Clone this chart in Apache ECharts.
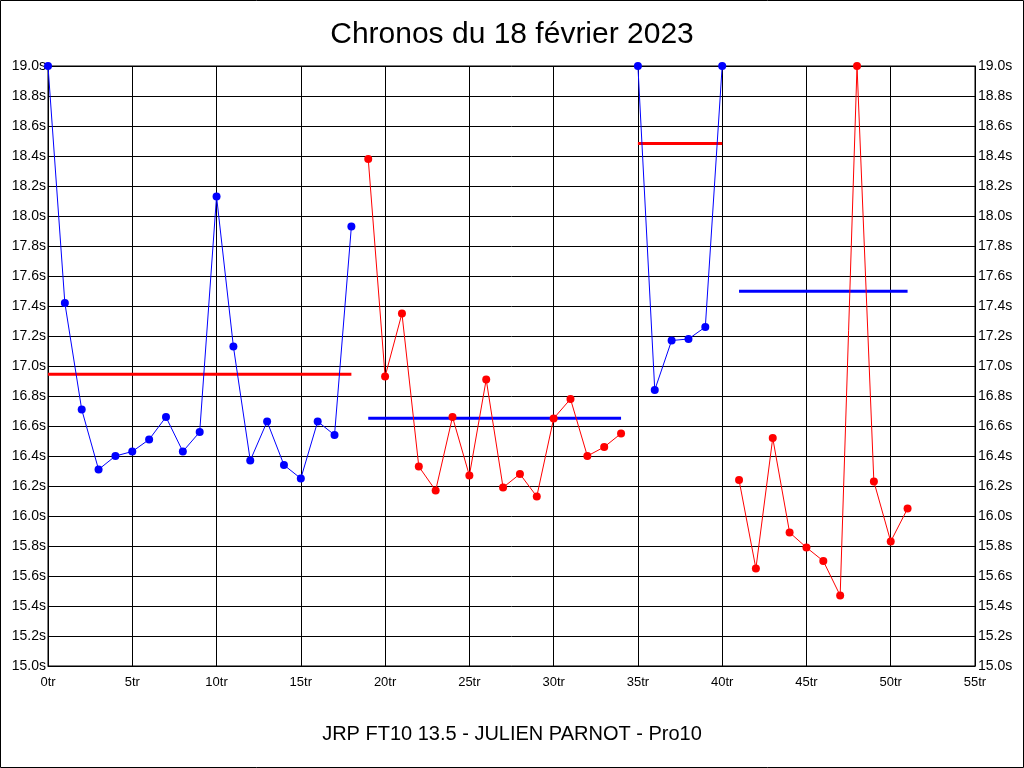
<!DOCTYPE html>
<html>
<head>
<meta charset="utf-8">
<script src="https://cdn.jsdelivr.net/npm/echarts@6/dist/echarts.min.js"></script>
<style>
html,body{margin:0;padding:0;background:#fff;}
#c{width:1024px;height:768px;}
</style>
</head>
<body>
<div id="c"></div>
<script>
// Stint data (lap times in seconds), stint first laps, stint averages
const stintStarts = [0, 19, 35, 41];
const stint1 = [19.0, 17.42, 16.71, 16.31, 16.40, 16.43, 16.51, 16.66, 16.43, 16.56, 18.13, 17.13, 16.37, 16.63, 16.34, 16.25, 16.63, 16.54, 17.93];
const stint2 = [18.38, 16.93, 17.35, 16.33, 16.17, 16.66, 16.27, 16.91, 16.19, 16.28, 16.13, 16.65, 16.78, 16.40, 16.46, 16.55];
const stint3 = [19.0, 16.84, 17.17, 17.18, 17.26, 19.0];
const stint4 = [16.24, 15.65, 16.52, 15.89, 15.79, 15.70, 15.47, 19.0, 16.23, 15.83, 16.05];
const stintAverages = [16.945, 16.651, 18.484, 17.498];
const stintColors = ['#0000ff', '#ff0000', '#0000ff', '#ff0000'];
const avgColors = ['#ff0000', '#0000ff', '#ff0000', '#0000ff'];
const xTicks = {min: 0, max: 55, interval: 5};
const yTicks = {min: 15, max: 19, interval: 0.2};

const stints = [stint1, stint2, stint3, stint4];
const series = [];
stints.forEach((s, k) => {
  const pts = s.map((v, i) => [stintStarts[k] + i, v]);
  series.push({
    type: 'line', data: pts, symbol: 'circle', symbolSize: 8,
    lineStyle: {color: stintColors[k], width: 1},
    itemStyle: {color: stintColors[k]},
    animation: false, silent: true, z: 3
  });
  const first = stintStarts[k], last = stintStarts[k] + s.length - 1;
  series.push({
    type: 'line', data: [[first, stintAverages[k]], [last, stintAverages[k]]],
    symbol: 'none', lineStyle: {color: avgColors[k], width: 3},
    animation: false, silent: true, z: 2
  });
});

const font = 'Liberation Sans, Arial, sans-serif';
const chart = echarts.init(document.getElementById('c'));
chart.setOption({
  backgroundColor: '#fff',
  animation: false,
  title: [
    {text: 'Chronos du 18 février 2023', left: 'center', top: 15,
     textStyle: {fontFamily: font, fontSize: 30, fontWeight: 'normal', color: '#000'}},
    {text: 'JRP FT10 13.5 - JULIEN PARNOT - Pro10', left: 'center', top: 719,
     textStyle: {fontFamily: font, fontSize: 20, fontWeight: 'normal', color: '#000'}}
  ],
  grid: {left: 48, right: 49, top: 66, bottom: 102, show: true, borderColor: '#000', borderWidth: 1},
  xAxis: {
    type: 'value', min: xTicks.min, max: xTicks.max, interval: xTicks.interval,
    axisLine: {show: true, lineStyle: {color: '#000'}},
    axisTick: {show: false},
    splitLine: {show: true, lineStyle: {color: '#000', width: 1}},
    axisLabel: {formatter: v => v + 'tr', color: '#000', fontFamily: 'Liberation Sans Narrow, ' + font, fontSize: 13, margin: 10}
  },
  yAxis: [
    {
      type: 'value', min: yTicks.min, max: yTicks.max, interval: yTicks.interval,
      axisLine: {show: true, lineStyle: {color: '#000'}},
      axisTick: {show: false},
      splitLine: {show: true, lineStyle: {color: '#000', width: 1}},
      axisLabel: {formatter: v => v.toFixed(1) + 's', color: '#000', fontFamily: font, fontSize: 14, margin: 2}
    },
    {
      type: 'value', position: 'right', min: yTicks.min, max: yTicks.max, interval: yTicks.interval,
      axisLine: {show: true, lineStyle: {color: '#000'}},
      axisTick: {show: false},
      splitLine: {show: false},
      axisLabel: {formatter: v => v.toFixed(1) + 's', color: '#000', fontFamily: font, fontSize: 14, margin: 3}
    }
  ],
  graphic: [{
    type: 'rect', shape: {x: 0.5, y: 0.5, width: 1023, height: 767},
    style: {fill: 'none', stroke: '#000', lineWidth: 1}, silent: true, z: 100
  }],
  series: series
});
</script>
</body>
</html>
